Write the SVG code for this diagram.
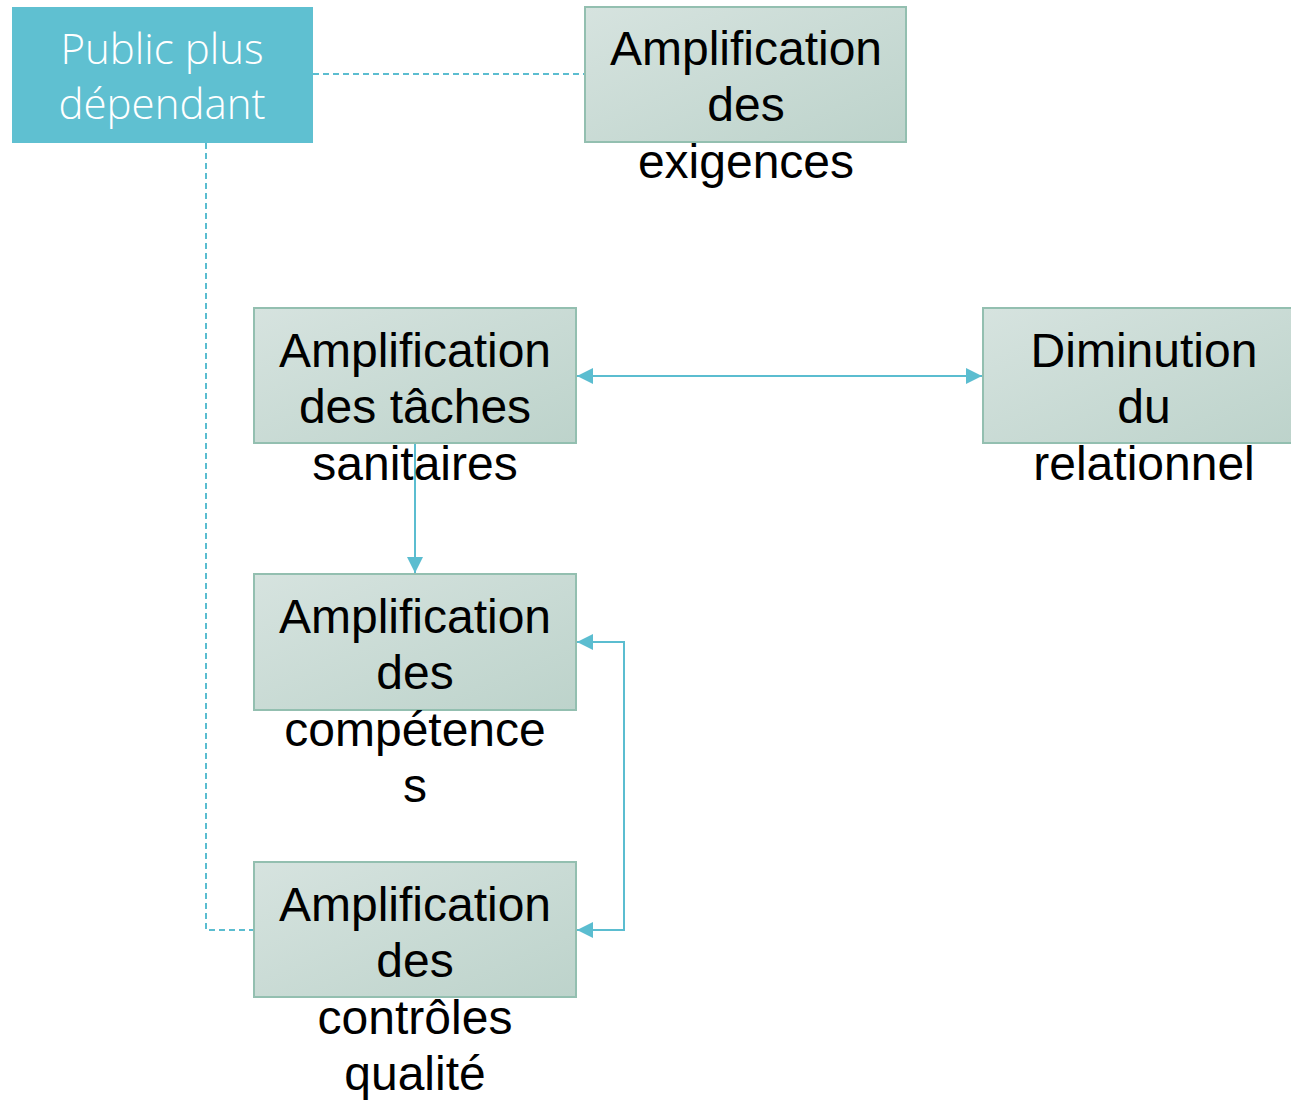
<svg xmlns="http://www.w3.org/2000/svg" width="1291" height="1100" viewBox="0 0 1291 1100">
  <style>
    .box { stroke: #93BFB0; stroke-width: 2; fill: url(#boxfill); }
    .lbl { font-family: "Liberation Sans", Arial, sans-serif; font-size: 48px; fill: #000; text-anchor: middle; }
    .head { font-family: "Open Sans", "Noto Sans", sans-serif; font-weight: 300; font-size: 42px; fill: #fff; text-anchor: middle; }
    .link { stroke: #5BBDD0; stroke-width: 2; fill: none; }
    .dash { stroke-dasharray: 6 4; }
  </style>
  <defs>
    <linearGradient id="boxfill" x1="0" y1="0" x2="1" y2="1">
      <stop offset="0" stop-color="#D6E3DF"/>
      <stop offset="1" stop-color="#BDD3CB"/>
    </linearGradient>
    <marker id="arrB" viewBox="0 0 16 16" refX="16" refY="8" markerWidth="16" markerHeight="16" markerUnits="userSpaceOnUse" orient="auto-start-reverse">
      <path d="M0,0 L16,8 L0,16 Z" fill="#5BBDD0"/>
    </marker>
  </defs>

  <rect width="1291" height="1100" fill="#fff"/>

  <!-- connectors -->
  <g id="connectors">
    <path class="link dash" d="M313,74 H585"/>
    <path class="link dash" d="M206,143 V930 H254"/>
    <path class="link" d="M577,376 H982" marker-start="url(#arrB)" marker-end="url(#arrB)"/>
    <path class="link" d="M415,444 V573" marker-end="url(#arrB)"/>
    <path class="link" d="M577,642 H624 V930 H577" marker-start="url(#arrB)" marker-end="url(#arrB)"/>
  </g>

  <!-- nodes -->
  <g id="public">
    <rect x="12" y="7" width="301" height="136" fill="#5FC0D1"/>
    <text class="head" x="162" y="64">Public plus</text>
    <text class="head" x="162" y="119">dépendant</text>
  </g>

  <g id="exigences">
    <rect class="box" x="585" y="7" width="321" height="135"/>
    <text class="lbl" x="746" y="65">Amplification</text>
    <text class="lbl" x="746" y="121">des</text>
    <text class="lbl" x="746" y="178">exigences</text>
  </g>

  <g id="taches">
    <rect class="box" x="254" y="308" width="322" height="135"/>
    <text class="lbl" x="415" y="367">Amplification</text>
    <text class="lbl" x="415" y="423">des tâches</text>
    <text class="lbl" x="415" y="480">sanitaires</text>
  </g>

  <g id="relationnel">
    <rect class="box" x="983" y="308" width="310" height="135"/>
    <text class="lbl" x="1144" y="367">Diminution</text>
    <text class="lbl" x="1144" y="423">du</text>
    <text class="lbl" x="1144" y="480">relationnel</text>
  </g>

  <g id="competences">
    <rect class="box" x="254" y="574" width="322" height="136"/>
    <text class="lbl" x="415" y="633">Amplification</text>
    <text class="lbl" x="415" y="689">des</text>
    <text class="lbl" x="415" y="746">compétence</text>
    <text class="lbl" x="415" y="802">s</text>
  </g>

  <g id="controles">
    <rect class="box" x="254" y="862" width="322" height="135"/>
    <text class="lbl" x="415" y="921">Amplification</text>
    <text class="lbl" x="415" y="977">des</text>
    <text class="lbl" x="415" y="1034">contrôles</text>
    <text class="lbl" x="415" y="1090">qualité</text>
  </g>
</svg>
